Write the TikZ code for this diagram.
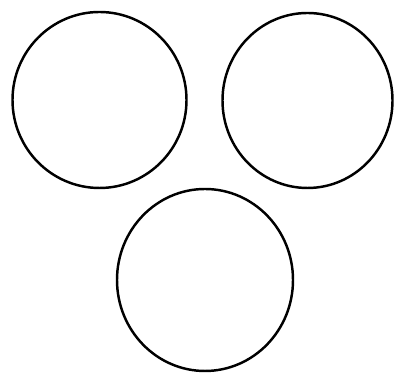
\documentclass[tikz,border=0pt]{standalone}
\usepackage{tikz}

\begin{document}
\begin{tikzpicture}[x=0.01cm,y=-0.01cm]
    \useasboundingbox (0,0) rectangle (394,377);
    \tikzset{ring/.style={draw=black,line width=0.7pt}}
    \draw[ring] (99.5,100) ellipse (87 and 88);
    \draw[ring] (307.5,100.5) ellipse (85 and 87.5);
    \draw[ring] (205,280) ellipse (88 and 91);
\end{tikzpicture}
\end{document}
